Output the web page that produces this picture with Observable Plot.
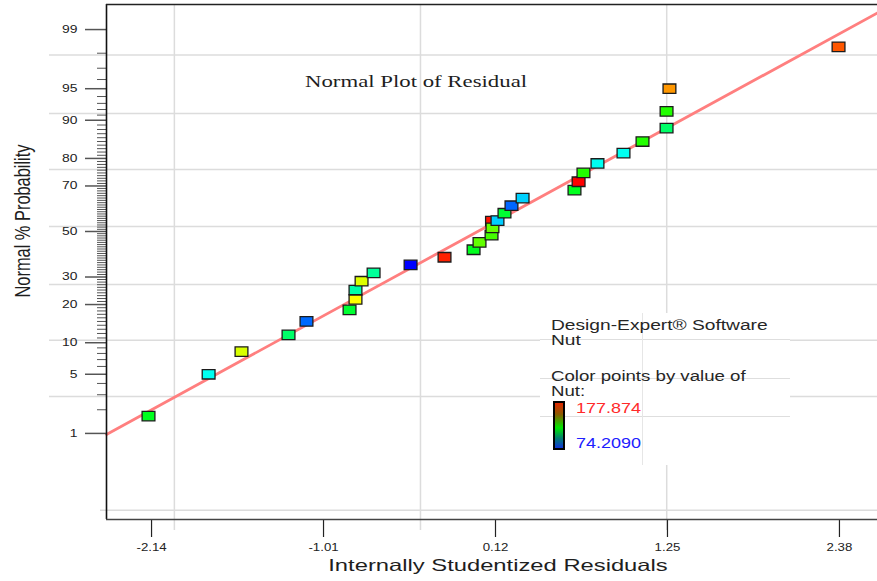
<!DOCTYPE html>
<html>
<head>
<meta charset="utf-8">
<script src="https://cdn.jsdelivr.net/npm/d3@7"></script>
<script src="https://cdn.jsdelivr.net/npm/@observablehq/plot@0.6"></script>
<style>
  html, body { margin: 0; padding: 0; background: #fff; }
  #chart { position: relative; width: 877px; height: 581px; overflow: hidden;
           font-family: "Liberation Sans", Arial, sans-serif; }
  #chart svg { position: absolute; left: 0; top: 0; }
  .txt { position: absolute; white-space: nowrap; line-height: 1; color: #262626; }
  .wide { transform-origin: 0 50%; }
  #legend-box { position: absolute; left: 540px; top: 313px; width: 250px; height: 152px; background: #fff; }
  #legend-box .h { position: absolute; left: 0; width: 250px; height: 0; border-top: 1.5px solid #dedede; }
  #legend-box .v { position: absolute; top: 0; height: 152px; width: 0; border-left: 1.5px solid #e6e6e6; }
  #colorbar { position: absolute; left: 553px; top: 401px; width: 12px; height: 49px; box-sizing: border-box;
              border: 2px solid #000;
              background: linear-gradient(to bottom, #e02800 0%, #8a5a00 25%, #00e800 55%, #00806e 78%, #1034d8 100%); }
</style>
</head>
<body>
<div id="chart"></div>
<script>
// Internally studentized residuals and their normal probability (%) ranks
const residual = [-2.16, -1.765, -1.549, -1.24, -1.122, -0.839, -0.80, -0.80, -0.76, -0.681,
                  -0.438, -0.215, -0.024, 0.015, 0.097, 0.094, 0.10, 0.133, 0.179, 0.225,
                  0.298, 0.639, 0.666, 0.698, 0.79, 0.961, 1.086, 1.244, 1.244, 1.263, 2.374];
const probability = [1.67, 5, 8.33, 11.67, 15, 18.33, 21.67, 25, 28.33, 31.67,
                     35, 38.33, 41.67, 45, 54.8, 48.33, 51.67, 55, 58.33, 61.67,
                     65, 68.33, 71.67, 75, 78.33, 81.67, 85, 88.33, 91.67, 95, 98.33];
// Response value (Nut) used to colour each run
const nut = [123, 101.5, 148, 115.5, 85, 121, 152, 109, 148.5, 110.5,
             74.209, 174.5, 123, 136, 176, 133, 136.5, 95, 121, 84.6,
             95.5, 123, 177.874, 129.5, 101.5, 101.5, 129.5, 115.5, 129.5, 162.5, 169];

// Fitted normal line (residual, probability %)
const lineResidual = [-2.436, 2.63];
const lineProbability = [0.97, 99.41];

// Axes
const xTicks = [-2.14, -1.01, 0.12, 1.25, 2.38];
const xTickLabels = ["-2.14", "-1.01", "0.12", "1.25", "2.38"];
const yMajorProbs = [1, 5, 10, 20, 30, 50, 70, 80, 90, 95, 99];
const yMinorProbs = d3.range(2, 99).filter(p => !yMajorProbs.includes(p));
const xDomain = [-2.436, 2.63];
const zDomain = [-3.318, 2.615];

// Background grid (probability %, residual)
const gridProbs = [97.9, 91.3, 76.2, 52.3, 27.1, 10.5, 2.87];
const baseGridProbs = [0.066];
const gridResiduals = [-1.99, -0.373, 1.245];

// Colour scale for the Nut response
const nutStops = [74.209, 100.125, 126.04, 151.96, 177.874];
const nutColors = ["#0000ff", "#00ffff", "#00ff00", "#ffff00", "#ff0000"];

// Inverse standard normal CDF (Acklam's rational approximation)
function probit(p) {
  const a = [-3.969683028665376e+01, 2.209460984245205e+02, -2.759285104469687e+02, 1.383577518672690e+02, -3.066479806614716e+01, 2.506628277459239e+00];
  const b = [-5.447609879822406e+01, 1.615858368580409e+02, -1.556989798598866e+02, 6.680131188771972e+01, -1.328068155288572e+01];
  const c = [-7.784894002430293e-03, -3.223964580411365e-01, -2.400758277161838e+00, -2.549732539343734e+00, 4.374664141464968e+00, 2.938163982698783e+00];
  const d = [7.784695709041462e-03, 3.224671290700398e-01, 2.445134137142996e+00, 3.754408661907416e+00];
  const pl = 0.02425, ph = 1 - pl;
  let q, r;
  if (p < pl) {
    q = Math.sqrt(-2 * Math.log(p));
    return (((((c[0]*q+c[1])*q+c[2])*q+c[3])*q+c[4])*q+c[5]) / ((((d[0]*q+d[1])*q+d[2])*q+d[3])*q+1);
  }
  if (p > ph) {
    q = Math.sqrt(-2 * Math.log(1 - p));
    return -(((((c[0]*q+c[1])*q+c[2])*q+c[3])*q+c[4])*q+c[5]) / ((((d[0]*q+d[1])*q+d[2])*q+d[3])*q+1);
  }
  q = p - 0.5; r = q * q;
  return (((((a[0]*r+a[1])*r+a[2])*r+a[3])*r+a[4])*r+a[5])*q / (((((b[0]*r+b[1])*r+b[2])*r+b[3])*r+b[4])*r+1);
}
const z = pct => probit(pct / 100);

const points = residual.map((r, i) => ({residual: r, prob: probability[i], nut: nut[i]}));
const fitLine = lineResidual.map((r, i) => ({residual: r, prob: lineProbability[i]}));
const majorZ = yMajorProbs.map(z);
const majorLabel = new Map(majorZ.map((v, i) => [v, String(yMajorProbs[i])]));
const xLabel = new Map(xTicks.map((v, i) => [v, xTickLabels[i]]));

// Flat rectangular marker
const boxSymbol = {
  draw(ctx, size) {
    const r = Math.sqrt(size / Math.PI), w = r, h = r * 0.74;
    ctx.moveTo(-w, -h); ctx.lineTo(w, -h); ctx.lineTo(w, h); ctx.lineTo(-w, h); ctx.closePath();
  }
};

const chart = Plot.plot({
  width: 877,
  height: 581,
  marginTop: 4,
  marginRight: 0,
  marginBottom: 62,
  marginLeft: 106,
  style: {fontFamily: "'Liberation Sans', Arial, sans-serif", background: "transparent", overflow: "visible"},
  x: {domain: xDomain, axis: null, label: null},
  y: {domain: zDomain, axis: null, label: null},
  color: {type: "linear", domain: nutStops, range: nutColors, interpolate: "rgb"},
  marks: [
    Plot.ruleY(gridProbs, {y: z, stroke: "#dcdcdc", strokeWidth: 1.5, insetLeft: -57}),
    Plot.ruleY(baseGridProbs, {y: z, stroke: "#dcdcdc", strokeWidth: 1.5, insetLeft: -6}),
    Plot.ruleX(gridResiduals, {stroke: "#dcdcdc", strokeWidth: 1.5, insetBottom: -11}),
    Plot.line(fitLine, {x: "residual", y: d => z(d.prob), stroke: "#ff7f7f", strokeWidth: 2.8}),
    Plot.dot(points, {x: "residual", y: d => z(d.prob), fill: "nut", stroke: "#1c1c1c",
                      strokeWidth: 1.3, r: 6.4, symbol: boxSymbol}),
    Plot.axisY(yMinorProbs.map(z), {tickSize: 9, stroke: "#555", fill: "none", label: null}),
    Plot.axisY(majorZ, {tickSize: 21, tickPadding: 8, stroke: "#555", strokeWidth: 1.5,
                        fill: "#222", fontSize: 10.5, tickFormat: v => majorLabel.get(v), label: null}),
    Plot.axisX(xTicks, {tickSize: 18, tickPadding: 5, stroke: "#222", strokeWidth: 1.2,
                        fill: "#222", fontSize: 11.5, tickFormat: v => xLabel.get(v), label: null}),
    Plot.ruleX([xDomain[0]], {stroke: "#111", strokeWidth: 1.6}),
    Plot.ruleY([zDomain[0]], {stroke: "#444", strokeWidth: 1.6}),
    Plot.ruleY([zDomain[1]], {stroke: "#222", strokeWidth: 1.6})
  ]
});

const root = document.getElementById("chart");
root.append(chart);

// Widen tick labels horizontally
function widen(selector, k) {
  chart.querySelectorAll(selector).forEach(t => {
    const w = t.getComputedTextLength();
    if (w > 0) {
      t.setAttribute("textLength", (w * k).toFixed(2));
      t.setAttribute("lengthAdjust", "spacingAndGlyphs");
    }
  });
}
widen('g[aria-label="y-axis tick label"] text', 1.32);
widen('g[aria-label="x-axis tick label"] text', 1.15);

// Titles and legend
root.insertAdjacentHTML("beforeend", `
  <div class="txt" style="left:305px; top:72.8px; font-family:'Liberation Serif', 'Times New Roman', serif; font-size:17px; color:#1e1e1e; transform-origin:0 50%; transform:scaleX(1.34);">Normal Plot of Residual</div>
  <div class="txt" style="left:498px; top:557px; font-size:16.5px; color:#1e1e1e; transform:translateX(-50%) scaleX(1.44);">Internally Studentized Residuals</div>
  <div class="txt" style="left:22px; top:221px; font-size:16.4px; color:#1e1e1e; transform:translate(-50%,-50%) rotate(-90deg) scaleY(1.4);">Normal % Probability</div>
  <div id="legend-box">
    <div class="h" style="top:26px"></div>
    <div class="h" style="top:65px"></div>
    <div class="h" style="top:103px"></div>
    <div class="v" style="left:102px"></div>
  </div>
  <div class="txt wide" style="left:551px; top:318.2px; font-size:14px; transform:scaleX(1.37);">Design-Expert® Software</div>
  <div class="txt wide" style="left:551px; top:333.4px; font-size:14px; transform:scaleX(1.37);">Nut</div>
  <div class="txt wide" style="left:551px; top:369.2px; font-size:14px; transform:scaleX(1.33);">Color points by value of</div>
  <div class="txt wide" style="left:551px; top:384.4px; font-size:14px; transform:scaleX(1.33);">Nut:</div>
  <div id="colorbar"></div>
  <div class="txt wide" style="left:576px; top:400.8px; font-size:14.5px; color:#ff2a2a; transform:scaleX(1.24);">177.874</div>
  <div class="txt wide" style="left:576px; top:435.8px; font-size:14.5px; color:#2020ff; transform:scaleX(1.24);">74.2090</div>
`);
</script>
</body>
</html>
